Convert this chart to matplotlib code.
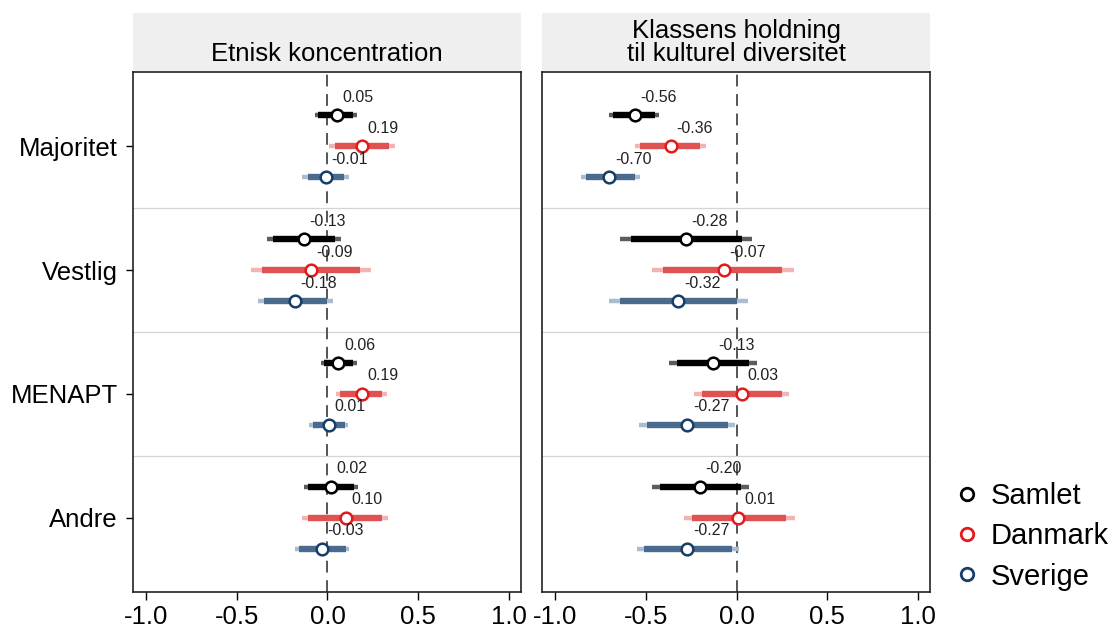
import matplotlib
matplotlib.use("Agg")
import matplotlib.pyplot as plt
from matplotlib.lines import Line2D

plt.rcParams['font.family'] = ['Liberation Sans', 'DejaVu Sans']
plt.rcParams['lines.scale_dashes'] = False

# groups and series
groups = ["Majoritet", "Vestlig", "MENAPT", "Andre"]
series = ["Samlet", "Danmark", "Sverige"]
panel_titles = ["Etnisk koncentration", "Klassens holdning\ntil kulturel diversitet"]

# Etnisk koncentration: rows = Samlet, Danmark, Sverige; cols = groups
etn_est = [[0.05, -0.13, 0.06, 0.02],
           [0.19, -0.09, 0.19, 0.10],
           [-0.01, -0.18, 0.01, -0.03]]
etn_in_lo = [[-0.05, -0.30, -0.02, -0.105],
             [0.04, -0.36, 0.07, -0.105],
             [-0.11, -0.35, -0.08, -0.155]]
etn_in_hi = [[0.14, 0.04, 0.14, 0.145],
             [0.34, 0.18, 0.30, 0.30],
             [0.09, 0.00, 0.095, 0.10]]
etn_out_lo = [[-0.07, -0.335, -0.035, -0.13],
              [0.01, -0.42, 0.045, -0.14],
              [-0.14, -0.385, -0.10, -0.18]]
etn_out_hi = [[0.165, 0.075, 0.16, 0.17],
              [0.37, 0.24, 0.33, 0.335],
              [0.12, 0.03, 0.115, 0.12]]

# Klassens holdning til kulturel diversitet
kul_est = [[-0.56, -0.28, -0.13, -0.20],
           [-0.36, -0.07, 0.03, 0.01],
           [-0.70, -0.32, -0.27, -0.27]]
kul_in_lo = [[-0.68, -0.58, -0.33, -0.42],
             [-0.53, -0.405, -0.19, -0.245],
             [-0.83, -0.64, -0.49, -0.51]]
kul_in_hi = [[-0.45, 0.03, 0.07, 0.025],
             [-0.20, 0.25, 0.25, 0.27],
             [-0.56, 0.00, -0.045, -0.025]]
kul_out_lo = [[-0.70, -0.64, -0.37, -0.465],
              [-0.56, -0.465, -0.235, -0.29],
              [-0.855, -0.70, -0.535, -0.55]]
kul_out_hi = [[-0.425, 0.085, 0.11, 0.07],
              [-0.17, 0.315, 0.29, 0.32],
              [-0.53, 0.065, -0.01, 0.015]]

# colours per series: marker edge, inner CI, outer CI
edge_cols = ["#000000", "#e31a1c", "#173d6b"]
inner_cols = ["#000000", "#e05252", "#4a6b8e"]
outer_cols = ["#5c5c5c", "#f4b3b3", "#aabdd0"]
offsets = [-0.25, 0.0, 0.25]

fig = plt.figure(figsize=(11.16, 6.31), dpi=100)

panels = [(etn_est, etn_in_lo, etn_in_hi, etn_out_lo, etn_out_hi),
          (kul_est, kul_in_lo, kul_in_hi, kul_out_lo, kul_out_hi)]
lefts = [0.1192, 0.4857]

for p, (est, in_lo, in_hi, out_lo, out_hi) in enumerate(panels):
    ax = fig.add_axes([lefts[p], 0.0618, 0.3477, 0.8241])
    strip = fig.add_axes([lefts[p], 0.8875, 0.3477, 0.0919])
    strip.set_facecolor("#efefef")
    strip.set_xticks([])
    strip.set_yticks([])
    for s in strip.spines.values():
        s.set_visible(False)
    strip.text(0.5, 0.08, panel_titles[p], ha="center", va="bottom",
               fontsize=18.5, linespacing=0.95, transform=strip.transAxes)

    # group separators
    for k in range(len(groups) - 1):
        ax.axhline(k + 0.5, color="#d4d4d4", lw=0.9, zorder=1)
    ax.axvline(0, color="#555555", lw=1.4, dashes=(8.5, 5.5), zorder=2)

    for i in range(len(series)):
        for g in range(len(groups)):
            y = g + offsets[i]
            ax.plot([out_lo[i][g], out_hi[i][g]], [y, y], color=outer_cols[i],
                    lw=3.2, solid_capstyle="butt", zorder=3)
            ax.plot([in_lo[i][g], in_hi[i][g]], [y, y], color=inner_cols[i],
                    lw=4.6, solid_capstyle="butt", zorder=4)
            ax.plot(est[i][g], y, "o", ms=8.4, mfc="white", mec=edge_cols[i],
                    mew=1.8, zorder=5)
            ax.annotate(f"{est[i][g]:.2f}", (est[i][g], y), xytext=(4, 7.5),
                        textcoords="offset points", ha="left", va="bottom",
                        fontsize=11.5, color="#222222", zorder=6)

    ax.set_xlim(-1.07, 1.065)
    ax.set_ylim(len(groups) - 1 + 0.6, -0.6)
    ax.set_xticks([-1.0, -0.5, 0.0, 0.5, 1.0])
    ax.set_xticklabels(["-1.0", "-0.5", "0.0", "0.5", "1.0"])
    ax.tick_params(axis="x", length=6, width=1, labelsize=18.5, pad=3)
    ax.set_yticks(range(len(groups)))
    if p == 0:
        ax.set_yticklabels(groups)
        ax.tick_params(axis="y", length=5, width=1, labelsize=18.5, pad=6)
    else:
        ax.tick_params(axis="y", left=False, labelleft=False)
    for s in ax.spines.values():
        s.set_color("#222222")
        s.set_linewidth(1.2)

handles = [Line2D([], [], marker="o", ls="none", ms=9, mfc="white",
                  mec=edge_cols[i], mew=2.0, label=series[i])
           for i in range(len(series))]
fig.legend(handles=handles, loc="center left", bbox_to_anchor=(0.843, 0.150),
           frameon=False, fontsize=21, handlelength=1.0, handletextpad=0.3,
           labelspacing=0.42, borderaxespad=0)

fig.savefig("out.png", dpi=100)
